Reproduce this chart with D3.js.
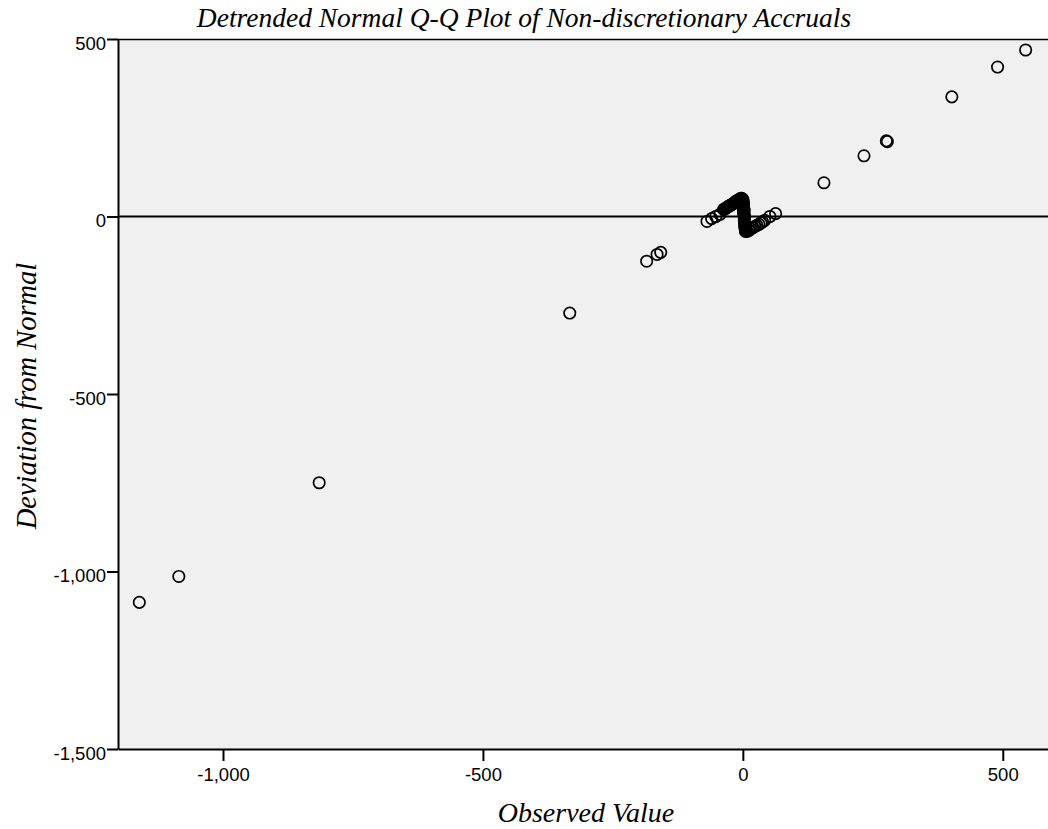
<!DOCTYPE html>
<html>
<head>
<meta charset="utf-8">
<script src="https://cdn.jsdelivr.net/npm/d3@7"></script>
<style>
  body { margin: 0; background: #fff; }
</style>
</head>
<body>
<div id="chart"></div>
<script>
const observed = [
  -1161, -1085, -815, -333, -185, -165, -158,
  -69, -60, -52, -44,
  -37, -35, -33, -31, -29, -27, -25, -23, -21, -19, -17, -15, -14, -12, -10, -8, -6, -4, -2,
  0, 0, 0, 1, 1, 1, 1, 1, 2, 2, 2, 2, 2, 2, 3, 3, 3, 3, 3, 3, 4, 4, 4, 4, 4, 5, 5, 5,
  8, 12, 15, 19, 23, 27, 31, 35, 38, 42, 52, 63,
  156, 233, 276, 278, 402, 490, 544
]
const deviation = [
  -1087, -1014, -750, -272, -126, -107, -101,
  -14, -6, 0, 6,
  20, 21, 23, 25, 27, 29, 31, 32, 34, 36, 38, 40, 42, 44, 45, 47, 49, 51, 51,
  48, 45, 42, 39, 35, 32, 29, 25, 22, 18, 15, 12, 8, 5, 2, -2, -5, -8, -12, -15, -18, -22, -25, -28, -32, -35, -38, -42,
  -42, -39, -35, -32, -28, -25, -22, -18, -15, -11, 0, 8,
  95, 171, 213, 211, 337, 421, 469
]
const xTicks = [-1000, -500, 0, 500]
const yTicks = [500, 0, -500, -1000, -1500]

const margin = { top: 39, left: 118, right: 0, bottom: 80 }
const width = 1048 - margin.left - margin.right
const height = 829 - margin.top - margin.bottom

const svg = d3
  .select('#chart')
  .append('svg')
  .attr('width', 1048)
  .attr('height', 829)

const g = svg
  .append('g')
  .attr('transform', 'translate(' + margin.left + ',' + margin.top + ')')

const xPositionScale = d3.scaleLinear().domain([-1202, 587]).range([0, width])
const yPositionScale = d3.scaleLinear().domain([-1500, 500]).range([height, 0])

const fmt = d => d3.format(',')(d).replace('\u2212', '-')

// plot background
g.append('rect')
  .attr('width', width)
  .attr('height', height)
  .attr('fill', '#f0f0f0')

// top border
g.append('line')
  .attr('x1', 0)
  .attr('x2', width)
  .attr('y1', 0.5)
  .attr('y2', 0.5)
  .attr('stroke', '#000')
  .attr('stroke-width', 1.5)

// zero reference line
g.append('line')
  .attr('x1', 0)
  .attr('x2', width)
  .attr('y1', yPositionScale(0))
  .attr('y2', yPositionScale(0))
  .attr('stroke', '#000')
  .attr('stroke-width', 2)

// axes
const xAxis = d3.axisBottom(xPositionScale)
  .tickValues(xTicks)
  .tickSize(12)
  .tickSizeOuter(0)
  .tickFormat(fmt)
g.append('g')
  .attr('class', 'axis x-axis')
  .attr('transform', 'translate(0,' + height + ')')
  .call(xAxis)

const yAxis = d3.axisLeft(yPositionScale)
  .tickValues(yTicks)
  .tickSize(11)
  .tickSizeOuter(0)
  .tickFormat(fmt)
g.append('g')
  .attr('class', 'axis y-axis')
  .call(yAxis)

g.selectAll('.axis path, .axis line')
  .attr('stroke', '#000')
  .attr('stroke-width', 2)
g.selectAll('.axis text')
  .attr('font-family', 'Liberation Sans, Arial, sans-serif')
  .attr('font-size', 18.5)
  .attr('fill', '#000')
g.selectAll('.x-axis text').attr('y', 0).attr('dy', 32)
g.selectAll('.y-axis text').attr('x', -12).attr('dy', 10)

// points
const points = observed.map((d, i) => ({ x: d, y: deviation[i] }))
g.append('g')
  .selectAll('circle')
  .data(points)
  .enter()
  .append('circle')
  .attr('cx', d => xPositionScale(d.x))
  .attr('cy', d => yPositionScale(d.y))
  .attr('r', 5.7)
  .attr('fill', 'none')
  .attr('stroke', '#000')
  .attr('stroke-width', 1.7)

// titles
svg.append('text')
  .attr('x', 524)
  .attr('y', 27)
  .attr('text-anchor', 'middle')
  .attr('font-family', 'Liberation Serif, Times New Roman, serif')
  .attr('font-style', 'italic')
  .attr('font-size', 27.5)
  .text('Detrended Normal Q-Q Plot of Non-discretionary Accruals')

svg.append('text')
  .attr('x', 586)
  .attr('y', 822)
  .attr('text-anchor', 'middle')
  .attr('font-family', 'Liberation Serif, Times New Roman, serif')
  .attr('font-style', 'italic')
  .attr('font-size', 28)
  .text('Observed Value')

svg.append('text')
  .attr('transform', 'translate(36,396) rotate(-90)')
  .attr('text-anchor', 'middle')
  .attr('font-family', 'Liberation Serif, Times New Roman, serif')
  .attr('font-style', 'italic')
  .attr('font-size', 28.5)
  .text('Deviation from Normal')
</script>
</body>
</html>
